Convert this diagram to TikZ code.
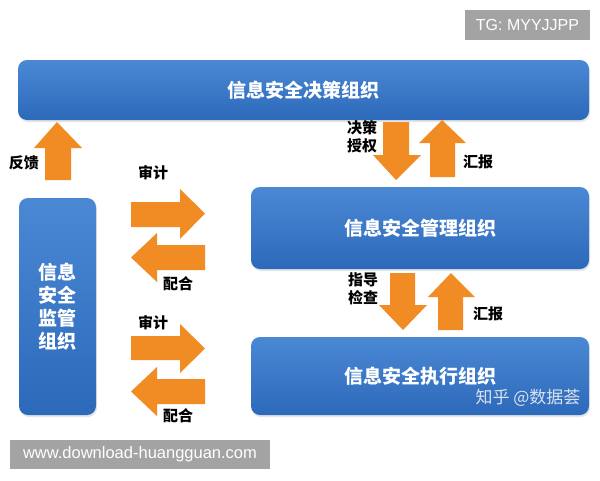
\documentclass[tikz,border=0pt]{standalone}
\usepackage{fontspec}
\setmainfont{Liberation Sans}
\newfontfamily\cjk{Noto Sans CJK SC}
\usetikzlibrary{shadows}
\definecolor{boxtop}{HTML}{4A88D4}
\definecolor{boxbot}{HTML}{2D69BA}
\definecolor{arrorange}{HTML}{F18C25}
\definecolor{wmgray}{HTML}{A3A3A3}
\definecolor{zhgray}{HTML}{D8E2EE}
\begin{document}
\begin{tikzpicture}[x=1pt,y=-1pt,
  orgbox/.style={rounded corners=9pt, top color=boxtop, bottom color=boxbot, draw=none,
    drop shadow={opacity=0.2, shadow xshift=1pt, shadow yshift=-2pt},
    text=white, font=\cjk\bfseries\fontsize{19}{23}\selectfont, align=center, inner sep=0pt},
  blockarrow/.style={fill=arrorange, draw=none},
  lbl/.style={font=\cjk\bfseries\fontsize{15}{18}\selectfont, text=black, inner sep=0pt, align=center},
  wmbox/.style={fill=wmgray, draw=none, text=white, inner sep=0pt}
]
\useasboundingbox (0,0) rectangle (600,480);
\fill[white] (0,0) rectangle (600,480);

% watermark top
\node[wmbox, minimum width=125pt, minimum height=30pt, font=\fontsize{16}{18}\selectfont] (tg) at (527.5,25) {TG: MYYJJPP};

% org boxes
\node[orgbox, minimum width=571pt, minimum height=60pt] (decision) at (303.5,90) {信息安全决策组织};
\node[orgbox, minimum width=338pt, minimum height=82pt] (manage) at (420,228) {信息安全管理组织};
\node[orgbox, minimum width=338pt, minimum height=78pt] (exec) at (420,376) {信息安全执行组织};
\node[orgbox, minimum width=77pt, minimum height=217pt, font=\cjk\bfseries\fontsize{19}{23}\selectfont] (monitor) at (57.5,306.5) {信息\\安全\\监管\\组织};

\node[font=\cjk\fontsize{17}{19}\selectfont, text=zhgray, inner sep=0pt] (zhihu) at (528,398) {知乎 @数据荟};

% vertical arrows
\fill[blockarrow] (45,180) -- (45,148) -- (34,148) -- (57,122) -- (82,148) -- (71,148) -- (71,180) -- cycle;
\fill[blockarrow] (383,122) -- (409,122) -- (409,155) -- (421,155) -- (396,180) -- (373,155) -- (383,155) -- cycle;
\fill[blockarrow] (430,177) -- (430,143) -- (419,143) -- (442,120) -- (466,143) -- (455,143) -- (455,177) -- cycle;
\fill[blockarrow] (390,273) -- (415,273) -- (415,305) -- (427,305) -- (403,330) -- (379,305) -- (390,305) -- cycle;
\fill[blockarrow] (438,330) -- (438,297) -- (428,297) -- (451,273) -- (475,297) -- (463,297) -- (463,330) -- cycle;

% horizontal arrows
\fill[blockarrow] (131,202) -- (180,202) -- (180,189) -- (205,213.5) -- (180,239) -- (180,227) -- (131,227) -- cycle;
\fill[blockarrow] (205,245) -- (157,245) -- (157,233) -- (131,257.5) -- (157,282) -- (157,270) -- (205,270) -- cycle;
\fill[blockarrow] (131,336) -- (180,336) -- (180,324) -- (205,348.5) -- (180,373) -- (180,360) -- (131,360) -- cycle;
\fill[blockarrow] (205,379) -- (157,379) -- (157,367) -- (131,391.5) -- (157,416) -- (157,404) -- (205,404) -- cycle;

% labels
\node[lbl] (lfk) at (24,163) {反馈};
\node[lbl] (lsj1) at (153,173) {审计};
\node[lbl] (lph1) at (178,284) {配合};
\node[lbl] (lsj2) at (153,323) {审计};
\node[lbl] (lph2) at (178,416) {配合};
\node[lbl] (ljc) at (362,137) {决策\\授权};
\node[lbl] (lhb1) at (478,162) {汇报};
\node[lbl] (lzd) at (363,288.5) {指导\\检查};
\node[lbl] (lhb2) at (488,314) {汇报};

% watermark bottom
\node[wmbox, minimum width=260pt, minimum height=29pt, font=\fontsize{16.5}{18}\selectfont] (www) at (140,454.5) {www.download-huangguan.com};
\end{tikzpicture}
\end{document}
